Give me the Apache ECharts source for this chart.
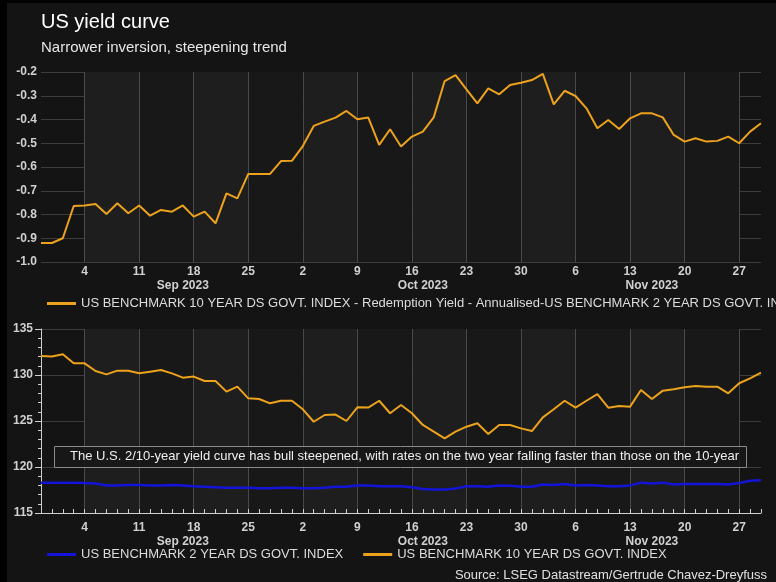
<!DOCTYPE html>
<html>
<head>
<meta charset="utf-8">
<script src="https://cdn.jsdelivr.net/npm/echarts@6/dist/echarts.min.js"></script>
<style>
  html, body { margin: 0; padding: 0; background: #000; }
  #chart { position: absolute; left: 7px; top: 3px; width: 769px; height: 579px; }
</style>
</head>
<body>
<div id="chart"></div>
<script>
const dates = [
  "2023-08-29", "2023-08-30", "2023-08-31", "2023-09-01",
  "2023-09-04", "2023-09-05", "2023-09-06", "2023-09-07", "2023-09-08",
  "2023-09-11", "2023-09-12", "2023-09-13", "2023-09-14", "2023-09-15",
  "2023-09-18", "2023-09-19", "2023-09-20", "2023-09-21", "2023-09-22",
  "2023-09-25", "2023-09-26", "2023-09-27", "2023-09-28", "2023-09-29",
  "2023-10-02", "2023-10-03", "2023-10-04", "2023-10-05", "2023-10-06",
  "2023-10-09", "2023-10-10", "2023-10-11", "2023-10-12", "2023-10-13",
  "2023-10-16", "2023-10-17", "2023-10-18", "2023-10-19", "2023-10-20",
  "2023-10-23", "2023-10-24", "2023-10-25", "2023-10-26", "2023-10-27",
  "2023-10-30", "2023-10-31", "2023-11-01", "2023-11-02", "2023-11-03",
  "2023-11-06", "2023-11-07", "2023-11-08", "2023-11-09", "2023-11-10",
  "2023-11-13", "2023-11-14", "2023-11-15", "2023-11-16", "2023-11-17",
  "2023-11-20", "2023-11-21", "2023-11-22", "2023-11-23", "2023-11-24",
  "2023-11-27", "2023-11-28", "2023-11-29"
];

// 10y minus 2y spread (top panel)
const spread = [
  -0.92, -0.92, -0.90, -0.764,
  -0.762, -0.756, -0.798, -0.753, -0.795,
  -0.762, -0.805, -0.781, -0.788, -0.762,
  -0.809, -0.788, -0.837, -0.711, -0.732,
  -0.629, -0.629, -0.629, -0.575, -0.574,
  -0.512, -0.427, -0.409, -0.392, -0.364,
  -0.399, -0.392, -0.507, -0.441, -0.514,
  -0.472, -0.451, -0.391, -0.238, -0.213,
  -0.273, -0.332, -0.269, -0.294, -0.255,
  -0.245, -0.234, -0.208, -0.336, -0.279,
  -0.301, -0.353, -0.437, -0.402, -0.44,
  -0.395, -0.374, -0.374, -0.391, -0.465,
  -0.493, -0.479, -0.493, -0.49, -0.472,
  -0.50, -0.451, -0.416
];

// bottom panel indices
const twoYear = [
  118.3, 118.3, 118.3, 118.3,
  118.25, 118.2, 118.0, 118.0, 118.05,
  118.05, 118.0, 118.0, 118.05, 118.0,
  117.9, 117.85, 117.8, 117.75, 117.75,
  117.75, 117.7, 117.7, 117.75, 117.75,
  117.7, 117.7, 117.75, 117.85, 117.85,
  118.0, 118.0, 117.9, 117.9, 117.9,
  117.8, 117.6, 117.55, 117.55, 117.65,
  117.9, 117.9, 117.85, 118.0, 117.95,
  117.85, 117.85, 118.1, 118.05, 118.15,
  118.0, 118.05, 118.0, 117.9, 117.9,
  118.0, 118.3, 118.2, 118.3, 118.1,
  118.15, 118.15, 118.15, 118.15, 118.1,
  118.25, 118.5, 118.55
];

const tenYear = [
  132.07, 132.0, 132.25, 131.27,
  131.27, 130.43, 130.07, 130.47, 130.47,
  130.18, 130.36, 130.54, 130.18, 129.71,
  129.83, 129.35, 129.35, 128.19, 128.73,
  127.46, 127.39, 126.92, 127.2, 127.2,
  126.27, 124.92, 125.65, 125.7, 125.0,
  126.49, 126.46, 127.2, 125.84, 126.74,
  125.84, 124.57, 123.84, 123.12, 123.84,
  124.38, 124.75, 123.59, 124.57, 124.57,
  124.2, 123.91, 125.4, 126.27, 127.2,
  126.45, 127.2, 127.93, 126.45, 126.63,
  126.56, 128.37, 127.39, 128.3, 128.44,
  128.66, 128.8, 128.73, 128.73, 128.01,
  129.1, 129.64, 130.25
];

const spreadName = "US BENCHMARK 10 YEAR DS GOVT. INDEX - Redemption Yield - Annualised-US BENCHMARK 2 YEAR DS GOVT. INDEX";
const twoName = "US BENCHMARK 2 YEAR DS GOVT. INDEX";
const tenName = "US BENCHMARK 10 YEAR DS GOVT. INDEX";
const note = "The U.S. 2/10-year yield curve has bull steepened, with rates on the two year falling faster than those on the 10-year";

const ORANGE = "#eca21c";
const BLUE = "#1414d8";
const monthNames = ["Jan", "Feb", "Mar", "Apr", "May", "Jun", "Jul", "Aug", "Sep", "Oct", "Nov", "Dec"];

const isMonday = (i) => new Date(dates[i] + "T00:00:00Z").getUTCDay() === 1;

// middle index of each (full) month in the data, for the month labels
const monthMid = {};
(function () {
  const ranges = {};
  dates.forEach((d, i) => {
    const k = d.slice(0, 7);
    if (!ranges[k]) ranges[k] = [i, i];
    ranges[k][1] = i;
  });
  Object.keys(ranges).forEach((k) => {
    if (k === "2023-08") return;
    monthMid[Math.round((ranges[k][0] + ranges[k][1]) / 2)] = k;
  });
})();

const chart = echarts.init(document.getElementById("chart"));

const labelColor = "#d0d0d0";
const font = "Liberation Sans, Arial, sans-serif";

function dayAxis(gridIndex, margin, opts) {
  return Object.assign({
    type: "category",
    gridIndex: gridIndex,
    data: dates,
    boundaryGap: false,
    axisLine: { show: false },
    axisTick: { show: false },
    axisLabel: {
      color: labelColor, fontSize: 12, fontWeight: "bold", fontFamily: font, margin: margin,
      interval: (i) => isMonday(i),
      formatter: (v) => String(Number(v.slice(8)))
    },
    splitLine: { show: true, interval: (i) => isMonday(i), lineStyle: { color: "#4a4a4a", width: 1 } },
    splitArea: { show: true, interval: (i) => isMonday(i), areaStyle: { color: ["#1e1e1e", "#181818"] } }
  }, opts || {});
}

function monthAxis(gridIndex, offset, margin) {
  return {
    type: "category",
    gridIndex: gridIndex,
    data: dates,
    boundaryGap: false,
    position: "bottom",
    offset: offset,
    axisLine: { show: false },
    axisTick: { show: false },
    splitLine: { show: false },
    axisLabel: {
      color: labelColor, fontSize: 12, fontWeight: "bold", fontFamily: font, margin: margin,
      interval: (i) => monthMid[i] !== undefined,
      formatter: (v) => monthNames[Number(v.slice(5, 7)) - 1] + " " + v.slice(0, 4)
    }
  };
}

chart.setOption({
  backgroundColor: "#141414",
  animation: false,
  title: [
    { text: "US yield curve", left: 34, top: 9, padding: 0, textStyle: { color: "#ffffff", fontSize: 20, fontWeight: "normal", fontFamily: font } },
    { text: "Narrower inversion, steepening trend", left: 34, top: 37, padding: 0, textStyle: { color: "#e6e6e6", fontSize: 15, fontWeight: "normal", fontFamily: font } }
  ],
  grid: [
    { left: 34, right: 15, top: 69, height: 190 },
    { left: 34, right: 15, top: 326, height: 184 }
  ],
  legend: [
    {
      data: [spreadName], left: 40, top: 294, padding: 0, icon: "rect", itemWidth: 29, itemHeight: 3,
      textStyle: { color: "#dcdcdc", fontSize: 13, fontFamily: font }
    },
    {
      data: [twoName, tenName], left: 40, top: 545, padding: 0, icon: "rect", itemWidth: 29, itemHeight: 3, itemGap: 20,
      textStyle: { color: "#dcdcdc", fontSize: 13, fontFamily: font }
    }
  ],
  xAxis: [
    dayAxis(0, 4),
    monthAxis(0, 14, 4),
    dayAxis(1, 9, {
      axisLine: { show: true, lineStyle: { color: "#cfcfcf", width: 1 } },
      axisTick: { show: true, inside: true, length: 4, interval: 0, lineStyle: { color: "#cfcfcf" } }
    }),
    monthAxis(1, 14, 9)
  ],
  yAxis: [
    {
      type: "value", gridIndex: 0, min: -1, max: -0.2, interval: 0.1,
      axisLine: { show: false }, axisTick: { show: false },
      axisLabel: { color: labelColor, fontSize: 12, fontWeight: "bold", fontFamily: font, margin: 4, formatter: (v) => v.toFixed(1) },
      splitLine: { lineStyle: { color: "#3c3c3c", width: 1 } }
    },
    {
      type: "value", gridIndex: 1, min: 115, max: 135, interval: 5,
      axisLine: { show: true, lineStyle: { color: "#cfcfcf", width: 1 } },
      axisTick: { show: true, length: 6, lineStyle: { color: "#cfcfcf" } },
      minorTick: { show: true, splitNumber: 5, length: 3, lineStyle: { color: "#cfcfcf" } },
      axisLabel: { color: labelColor, fontSize: 12, fontWeight: "bold", fontFamily: font, margin: 8 },
      splitLine: { lineStyle: { color: "#3c3c3c", width: 1 } }
    }
  ],
  series: [
    {
      name: spreadName, type: "line", xAxisIndex: 0, yAxisIndex: 0, data: spread,
      symbol: "none", lineStyle: { color: ORANGE, width: 2 }, itemStyle: { color: ORANGE }
    },
    {
      name: twoName, type: "line", xAxisIndex: 2, yAxisIndex: 1, data: twoYear,
      symbol: "none", lineStyle: { color: BLUE, width: 2.5 }, itemStyle: { color: BLUE }
    },
    {
      name: tenName, type: "line", xAxisIndex: 2, yAxisIndex: 1, data: tenYear,
      symbol: "none", lineStyle: { color: ORANGE, width: 2 }, itemStyle: { color: ORANGE }
    }
  ],
  graphic: [
    {
      type: "rect", left: 47, top: 443, shape: { width: 692, height: 21 }, z: 10,
      style: { fill: "rgba(24,24,24,0.85)", stroke: "#8a8a8a", lineWidth: 1 }
    },
    {
      type: "text", left: 63, top: 447, z: 11,
      style: { text: note, fill: "#eeeeee", fontSize: 13, fontFamily: font }
    },
    {
      type: "text", right: 9, top: 566, z: 11,
      style: { text: "Source: LSEG Datastream/Gertrude Chavez-Dreyfuss", fill: "#e0e0e0", fontSize: 13, fontFamily: font }
    }
  ]
});

window.addEventListener("resize", () => chart.resize());
</script>
</body>
</html>
